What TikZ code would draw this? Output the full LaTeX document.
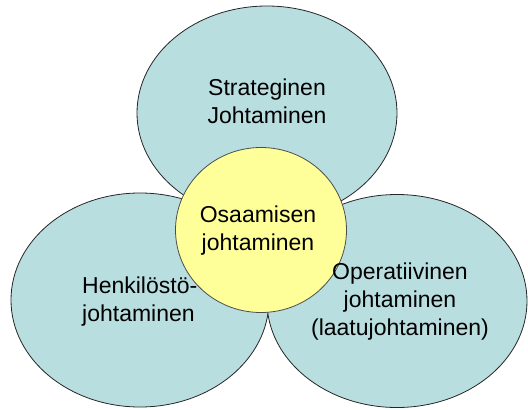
\documentclass[tikz,border=0pt]{standalone}
\usepackage{fontspec}
\setmainfont{Liberation Sans}
\begin{document}
\begin{tikzpicture}[x=1pt,y=-1pt,
  petal/.style={draw=black!85,line width=0.8pt,fill=petalblue},
  core/.style={draw=black!70,line width=0.8pt,fill=coreyellow},
  label/.style={font=\fontsize{23}{28}\selectfont,text=black,inner sep=0pt}]
\definecolor{petalblue}{RGB}{185,222,224}
\definecolor{coreyellow}{RGB}{255,255,153}
\useasboundingbox (0,0) rectangle (528,410);
% three outer areas
\draw[petal] (267,113) ellipse [x radius=130,y radius=107];
\draw[petal] (140,300) ellipse [x radius=129,y radius=107];
\draw[petal] (397,301) ellipse [x radius=130,y radius=106.5];
% central area
\draw[core] (261,230) ellipse [x radius=85.5,y radius=82.5];
% texts
\node[label,align=center] (strat) at (267,101) {Strateginen\\Johtaminen};
\node[label,align=center] (osaam) at (258,231) {Osaamisen\\johtaminen};
\node[label,align=left,anchor=west] (henk) at (82,302) {Henkilöstö-\\johtaminen};
\node[label,align=center] (oper) at (400,302) {Operatiivinen\\johtaminen\\(laatujohtaminen)};
\end{tikzpicture}
\end{document}
